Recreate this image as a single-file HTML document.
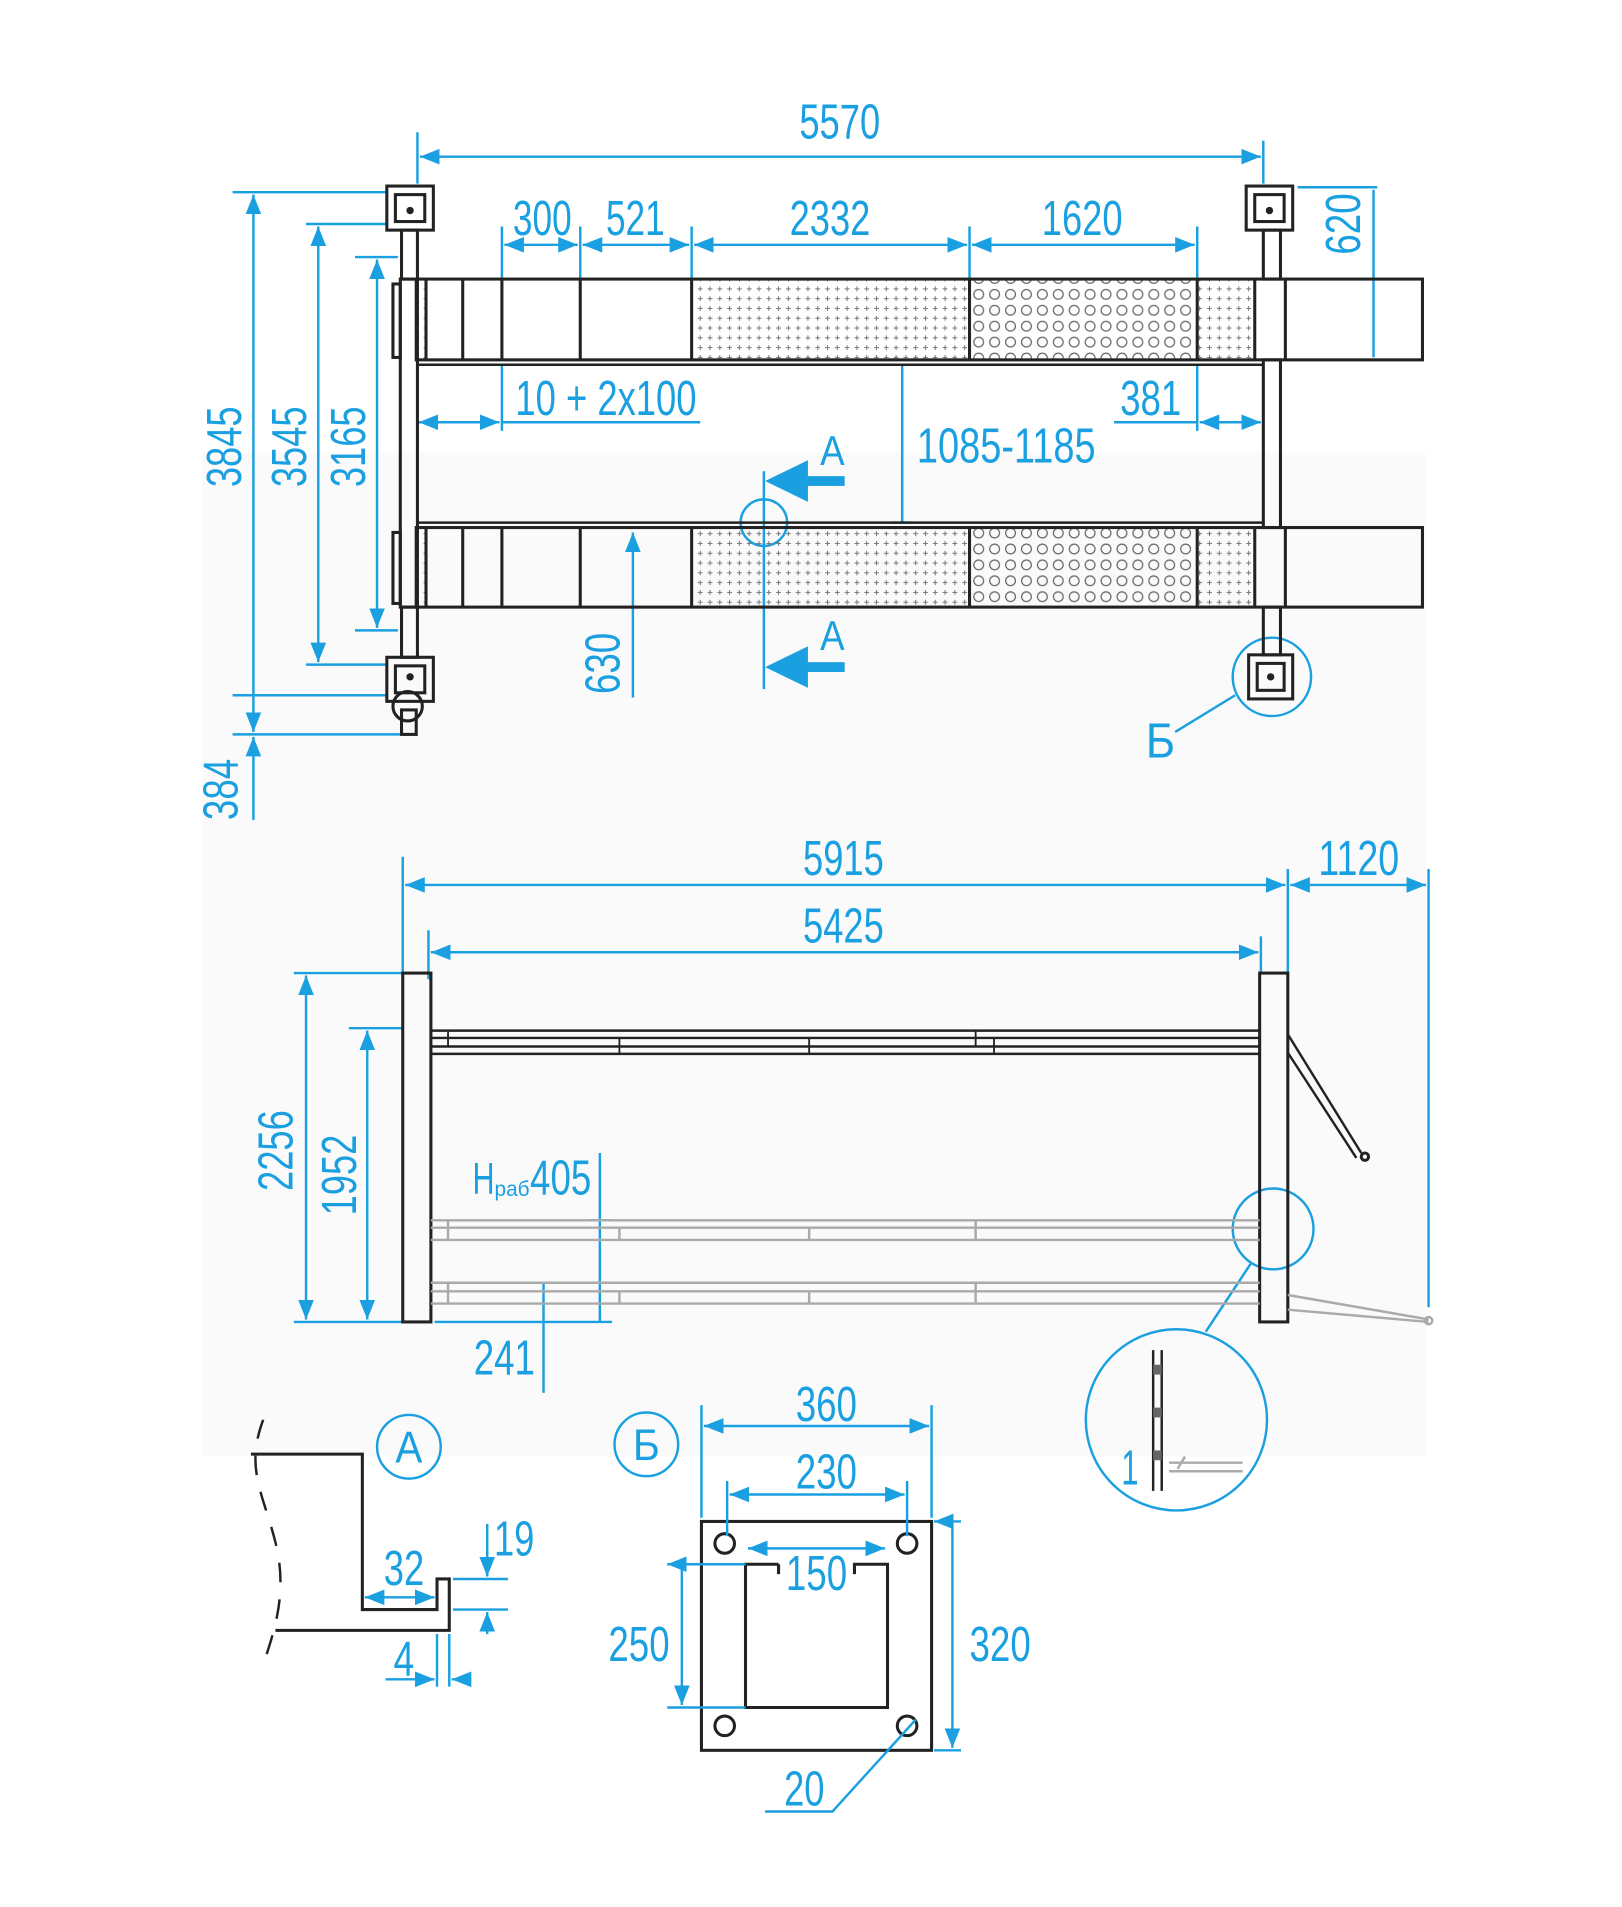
<!DOCTYPE html>
<html><head><meta charset="utf-8"><style>
html,body{margin:0;padding:0;background:#fff;width:1622px;height:1907px;overflow:hidden}
svg{display:block}
.b{fill:#1aa0e0;font-family:"Liberation Sans",sans-serif;font-size:40px}
.bl{stroke:#1aa0e0;stroke-width:2;fill:none}
.k{stroke:#222;stroke-width:2.5;fill:none}
.g{stroke:#aaa;stroke-width:2;fill:none}
</style></head><body>
<svg width="1622" height="1907" viewBox="0 0 1325 1558" preserveAspectRatio="none" xmlns="http://www.w3.org/2000/svg">
<defs>
<marker id="a" viewBox="0 0 10 10" refX="10" refY="5" markerWidth="8" markerHeight="8" orient="auto-start-reverse"><path d="M0,1 L10,5 L0,9 z" fill="#1aa0e0"/></marker>
<pattern id="pl" width="8" height="8" patternUnits="userSpaceOnUse"><path d="M4,2v4M2,4h4" stroke="#777" stroke-width="0.8"/></pattern>
<pattern id="ci" width="13" height="13" patternUnits="userSpaceOnUse"><circle cx="6.5" cy="6.5" r="4" fill="none" stroke="#666" stroke-width="1"/></pattern>
</defs>
<rect x="165" y="370" width="1000" height="820" fill="#fafafa"/>
<!-- TOP VIEW -->
<g class="bl">
<path d="M341,108V150M1032,115V150" /><path d="M343,128H1030" marker-start="url(#a)" marker-end="url(#a)"/>
<path d="M190,157H316M250,183H316M290,210H325M290,515H325M250,543H316M190,568H316M190,600H330"/>
<path d="M207,159V598" marker-start="url(#a)" marker-end="url(#a)"/>
<path d="M260,185V541" marker-start="url(#a)" marker-end="url(#a)"/>
<path d="M308,212V513" marker-start="url(#a)" marker-end="url(#a)"/>
<path d="M207,602V670" marker-start="url(#a)"/>
<path d="M410,185V228M474,185V228M565,185V228M792,185V228M978,185V228"/>
<path d="M412,200H472" marker-start="url(#a)" marker-end="url(#a)"/><path d="M476,200H563" marker-start="url(#a)" marker-end="url(#a)"/>
<path d="M567,200H790" marker-start="url(#a)" marker-end="url(#a)"/><path d="M794,200H976" marker-start="url(#a)" marker-end="url(#a)"/>
<path d="M1060,153H1125M1110,294H1130M1122,155V292"/>
<path d="M410,298V352M978,298V352"/>
<path d="M342,345H408" marker-start="url(#a)" marker-end="url(#a)"/><path d="M410,345H572"/>
<path d="M910,345H978"/><path d="M980,345H1030" marker-start="url(#a)" marker-end="url(#a)"/>
<path d="M737,298V427M728,298H746M728,427H746"/>
<path d="M624,385V563"/><circle cx="624" cy="427" r="19"/>
<path d="M517,435V570" marker-start="url(#a)"/>
<circle cx="1039" cy="553" r="32"/><path d="M1009,568L960,598"/>
</g>
<g fill="#1aa0e0">
<rect x="652" y="389" width="38" height="8"/><path d="M625,393L660,376L660,410z"/>
<rect x="652" y="541" width="38" height="8"/><path d="M625,545L660,528L660,562z"/>
</g>
<g class="b">
<text x="686" y="113" text-anchor="middle" textLength="66" lengthAdjust="spacingAndGlyphs">5570</text>
<text x="443" y="192" text-anchor="middle" textLength="48" lengthAdjust="spacingAndGlyphs">300</text>
<text x="519" y="192" text-anchor="middle" textLength="48" lengthAdjust="spacingAndGlyphs">521</text>
<text x="678" y="192" text-anchor="middle" textLength="66" lengthAdjust="spacingAndGlyphs">2332</text>
<text x="884" y="192" text-anchor="middle" textLength="66" lengthAdjust="spacingAndGlyphs">1620</text>
<text x="495" y="339" text-anchor="middle" textLength="148" lengthAdjust="spacingAndGlyphs">10 + 2x100</text>
<text x="940" y="339" text-anchor="middle" textLength="50" lengthAdjust="spacingAndGlyphs">381</text>
<text x="822" y="378" text-anchor="middle" textLength="146" lengthAdjust="spacingAndGlyphs">1085-1185</text>
<text x="680" y="380" text-anchor="middle" font-size="34" textLength="20" lengthAdjust="spacingAndGlyphs">A</text><text x="680" y="531" text-anchor="middle" font-size="34" textLength="20" lengthAdjust="spacingAndGlyphs">A</text>
<text x="948" y="619" text-anchor="middle" textLength="24" lengthAdjust="spacingAndGlyphs">Б</text>
<text transform="translate(197,365) rotate(-90)" text-anchor="middle" textLength="66" lengthAdjust="spacingAndGlyphs">3845</text>
<text transform="translate(250,365) rotate(-90)" text-anchor="middle" textLength="66" lengthAdjust="spacingAndGlyphs">3545</text>
<text transform="translate(298,365) rotate(-90)" text-anchor="middle" textLength="66" lengthAdjust="spacingAndGlyphs">3165</text>
<text transform="translate(194,645) rotate(-90)" text-anchor="middle" textLength="50" lengthAdjust="spacingAndGlyphs">384</text>
<text transform="translate(506,542) rotate(-90)" text-anchor="middle" textLength="50" lengthAdjust="spacingAndGlyphs">630</text>
<text transform="translate(1111,183) rotate(-90)" text-anchor="middle" textLength="50" lengthAdjust="spacingAndGlyphs">620</text>
</g>
<!-- runways -->
<g>
<rect x="565" y="229" width="227" height="64" fill="url(#pl)"/><rect x="792" y="229" width="186" height="64" fill="url(#ci)"/><rect x="978" y="229" width="47" height="64" fill="url(#pl)"/>
<rect x="565" y="432" width="227" height="63" fill="url(#pl)"/><rect x="792" y="432" width="186" height="63" fill="url(#ci)"/><rect x="978" y="432" width="47" height="63" fill="url(#pl)"/>
<rect x="340" y="229" width="8" height="64" fill="url(#pl)"/><rect x="340" y="432" width="8" height="63" fill="url(#pl)"/>
</g>
<g class="k">
<rect x="340" y="228" width="822" height="66"/><rect x="340" y="431" width="822" height="65"/>
<path d="M348,228V294M378,228V294M410,228V294M474,228V294M565,228V294M792,228V294M978,228V294M1025,228V294M1050,228V294"/>
<path d="M348,431V496M378,431V496M410,431V496M474,431V496M565,431V496M792,431V496M978,431V496M1025,431V496M1050,431V496"/>
<path d="M340,298H1032M340,427H1032" stroke-width="2"/>
<rect x="316" y="152" width="38" height="36"/><rect x="323" y="159" width="24" height="22"/>
<rect x="1018" y="152" width="38" height="36"/><rect x="1025" y="159" width="24" height="22"/>
<rect x="316" y="537" width="38" height="36"/><rect x="323" y="544" width="24" height="22"/>
<rect x="1020" y="535" width="36" height="36"/><rect x="1027" y="542" width="22" height="22"/>
<rect x="328" y="188" width="13" height="40"/><rect x="328" y="496" width="13" height="41"/>
<rect x="327" y="228" width="14" height="268"/><rect x="1032" y="188" width="14" height="40"/><rect x="1032" y="294" width="14" height="137"/><rect x="1032" y="496" width="14" height="39"/>
<rect x="321" y="232" width="6" height="60"/><rect x="321" y="435" width="6" height="58"/>
<circle cx="333" cy="577" r="12"/><rect x="328" y="580" width="12" height="20"/>
</g>
<circle cx="335" cy="172" r="3" fill="#222"/><circle cx="1037" cy="172" r="3" fill="#222"/><circle cx="335" cy="553" r="3" fill="#222"/><circle cx="1038" cy="553" r="3" fill="#222"/>
<!-- SIDE VIEW -->
<g class="bl">
<path d="M329,700V795M1052,710V795M1167,710V1068M350,760V800M1030,765V795"/>
<path d="M331,723H1050" marker-start="url(#a)" marker-end="url(#a)"/><path d="M1054,723H1165" marker-start="url(#a)" marker-end="url(#a)"/>
<path d="M352,778H1028" marker-start="url(#a)" marker-end="url(#a)"/>
<path d="M240,795H329M240,1080H329M285,840H329"/>
<path d="M250,797V1078" marker-start="url(#a)" marker-end="url(#a)"/>
<path d="M300,842V1078" marker-start="url(#a)" marker-end="url(#a)"/>
<path d="M355,1080H500M490,942V1080M480,997H500M420,1048H460M444,1048V1138"/>
<circle cx="1040" cy="1004" r="33"/><path d="M1022,1032L985,1088"/><circle cx="961" cy="1160" r="74"/>
</g>
<g class="b">
<text x="689" y="715" text-anchor="middle" textLength="66" lengthAdjust="spacingAndGlyphs">5915</text>
<text x="1110" y="715" text-anchor="middle" textLength="66" lengthAdjust="spacingAndGlyphs">1120</text>
<text x="689" y="770" text-anchor="middle" textLength="66" lengthAdjust="spacingAndGlyphs">5425</text>
<text transform="translate(239,940) rotate(-90)" text-anchor="middle" textLength="66" lengthAdjust="spacingAndGlyphs">2256</text>
<text transform="translate(291,960) rotate(-90)" text-anchor="middle" textLength="66" lengthAdjust="spacingAndGlyphs">1952</text>
<text x="386" y="975" font-size="36" textLength="18" lengthAdjust="spacingAndGlyphs">H</text><text x="404" y="977" font-size="17">раб</text>
<text x="433" y="976" textLength="50" lengthAdjust="spacingAndGlyphs">405</text>
<text x="412" y="1123" text-anchor="middle" textLength="50" lengthAdjust="spacingAndGlyphs">241</text>
<text x="923" y="1213" text-anchor="middle" textLength="14" lengthAdjust="spacingAndGlyphs">1</text>
</g>
<g class="k">
<rect x="329" y="795" width="23" height="285"/><rect x="1029" y="795" width="23" height="285"/>
<path d="M352,842H1029M352,848H1029M352,855H1029M352,861H1029" stroke-width="2"/>
<path d="M1052,845L1112,942M1052,860L1108,946" stroke-width="2"/><circle cx="1115" cy="945" r="3"/>
<path d="M942,1103V1218M949,1103V1218" stroke-width="2"/>
</g>
<path d="M366,842V855M506,848V861M661,848V861M797,842V855M812,848V861" stroke="#222" stroke-width="1.5"/>
<g class="g">
<path d="M352,997H1029M352,1003H1029M352,1013H1029M352,1048H1029M352,1055H1029M352,1065H1029"/>
<path d="M366,997V1013M506,1003V1013M661,1003V1013M797,997V1013M366,1048V1065M506,1055V1065M661,1055V1065M797,1048V1065"/>
<path d="M1052,1058L1167,1078M1052,1070L1167,1080"/><circle cx="1167" cy="1079" r="3"/>
<path d="M955,1195H1015M955,1202H1015M968,1190L962,1200"/>
</g>
<rect x="942" y="1115" width="7" height="8" fill="#666"/><rect x="942" y="1150" width="7" height="8" fill="#666"/><rect x="942" y="1185" width="7" height="8" fill="#666"/>
<!-- DETAIL A -->
<g class="bl"><circle cx="334" cy="1182" r="26"/><circle cx="528" cy="1180" r="26"/></g>
<g class="b"><text x="334" y="1195" text-anchor="middle" font-size="36" textLength="22" lengthAdjust="spacingAndGlyphs">A</text><text x="528" y="1193" text-anchor="middle" font-size="36" textLength="22" lengthAdjust="spacingAndGlyphs">Б</text></g>
<g class="k">
<path d="M205,1188H296V1315H357V1290H367V1332H225"/>
<path d="M215,1160C200,1200 215,1220 225,1260C235,1300 225,1330 215,1360" stroke-dasharray="16,14" stroke-width="2"/>
</g>
<g class="bl">
<path d="M298,1305H355" marker-start="url(#a)" marker-end="url(#a)"/>
<path d="M370,1290H415M370,1315H415M398,1245V1288" marker-end="url(#a)"/><path d="M398,1335V1317" marker-end="url(#a)"/>
<path d="M357,1335V1378M367,1335V1378M315,1372H355" marker-end="url(#a)"/><path d="M385,1372H369" marker-end="url(#a)"/>
</g>
<g class="b">
<text x="330" y="1295" text-anchor="middle" textLength="33" lengthAdjust="spacingAndGlyphs">32</text>
<text x="420" y="1271" text-anchor="middle" textLength="33" lengthAdjust="spacingAndGlyphs">19</text>
<text x="330" y="1369" text-anchor="middle" textLength="17" lengthAdjust="spacingAndGlyphs">4</text>
</g>
<!-- DETAIL B -->
<g class="k">
<rect x="573" y="1243" width="188" height="187"/>
<path d="M636,1278H609V1395H725V1278H698V1286M636,1278V1286"/>
<circle cx="592" cy="1261" r="8"/><circle cx="741" cy="1261" r="8"/><circle cx="592" cy="1410" r="8"/><circle cx="741" cy="1410" r="8"/>
</g>
<g class="bl">
<path d="M573,1148V1240M761,1148V1240M594,1210V1255M741,1210V1255"/>
<path d="M575,1165H759" marker-start="url(#a)" marker-end="url(#a)"/>
<path d="M596,1221H739" marker-start="url(#a)" marker-end="url(#a)"/>
<path d="M611,1265H723" marker-start="url(#a)" marker-end="url(#a)"/>
<path d="M545,1278H609M545,1395H609M557,1280V1393" marker-start="url(#a)" marker-end="url(#a)"/>
<path d="M763,1243H785M763,1430H785M778,1245V1428" marker-start="url(#a)" marker-end="url(#a)"/>
<path d="M625,1480H680L748,1405"/>
</g>
<g class="b">
<text x="675" y="1161" text-anchor="middle" textLength="50" lengthAdjust="spacingAndGlyphs">360</text>
<text x="675" y="1216" text-anchor="middle" textLength="50" lengthAdjust="spacingAndGlyphs">230</text>
<text x="667" y="1299" text-anchor="middle" textLength="50" lengthAdjust="spacingAndGlyphs">150</text>
<text x="522" y="1357" text-anchor="middle" textLength="50" lengthAdjust="spacingAndGlyphs">250</text>
<text x="817" y="1357" text-anchor="middle" textLength="50" lengthAdjust="spacingAndGlyphs">320</text>
<text x="657" y="1475" text-anchor="middle" textLength="33" lengthAdjust="spacingAndGlyphs">20</text>
</g>
</svg>
</body></html>
